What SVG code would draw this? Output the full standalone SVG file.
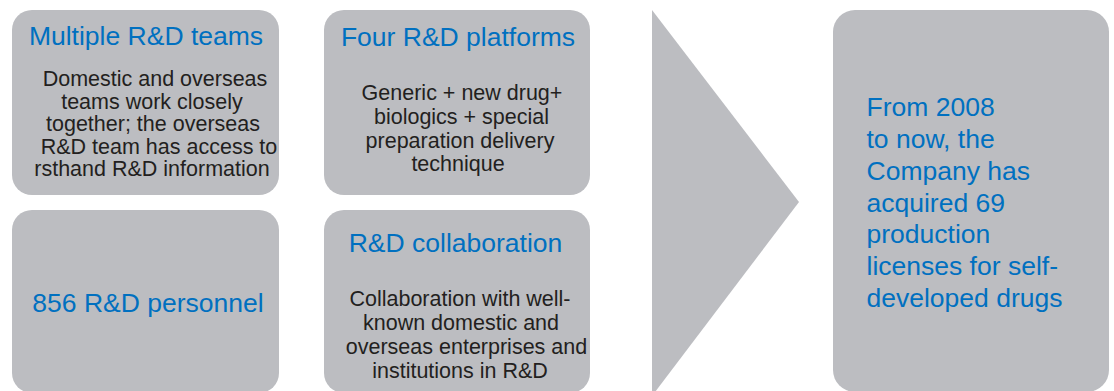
<svg xmlns="http://www.w3.org/2000/svg" width="1114" height="391" viewBox="0 0 1114 391">
<style>
.box{fill:#BCBDC1}
.t{font-family:"Liberation Sans",Arial,sans-serif;font-size:26.5px;fill:#0070C0}
.b{font-family:"Liberation Sans",Arial,sans-serif;font-size:21.5px;fill:#231F20;text-anchor:middle}
.c{text-anchor:middle}
</style>
<rect width="1114" height="391" fill="#FFFFFF"/>
<g id="node-teams">
<rect class="box" x="12" y="10" width="267" height="185" rx="20"/>
<text class="t c" x="146" y="45">Multiple R&amp;D teams</text>
<text class="b" x="155" y="86">Domestic and overseas</text>
<text class="b" x="152" y="108.5">teams work closely</text>
<text class="b" x="153" y="131">together; the overseas</text>
<text class="b" x="159" y="153.5">R&amp;D team has access to</text>
<text class="b" x="152" y="176">rsthand R&amp;D information</text>
</g>
<g id="node-platforms">
<rect class="box" x="324" y="10" width="266" height="185" rx="20"/>
<text class="t c" x="458" y="46">Four R&amp;D platforms</text>
<text class="b" x="462" y="100">Generic + new drug+</text>
<text class="b" x="461.5" y="124">biologics + special</text>
<text class="b" x="460" y="147.5">preparation delivery</text>
<text class="b" x="458" y="171">technique</text>
</g>
<g id="node-personnel">
<rect class="box" x="12" y="210" width="267" height="183" rx="20"/>
<text class="t c" x="148" y="312">856 R&amp;D personnel</text>
</g>
<g id="node-collaboration">
<rect class="box" x="324" y="210" width="266" height="183" rx="20"/>
<text class="t c" x="455.5" y="252">R&amp;D collaboration</text>
<text class="b" x="460" y="305.5">Collaboration with well-</text>
<text class="b" x="461" y="329.5">known domestic and</text>
<text class="b" x="466.5" y="353.5">overseas enterprises and</text>
<text class="b" x="460" y="377.5">institutions in R&amp;D</text>
</g>
<g id="connectors">
<polygon class="box" points="652,10 799,202 652,396"/>
</g>
<g id="node-result">
<rect class="box" x="833" y="10" width="276" height="382" rx="22"/>
<text class="t" x="866.5" y="115.7">From 2008</text>
<text class="t" x="866.5" y="147.5">to now, the</text>
<text class="t" x="866.5" y="179.5">Company has</text>
<text class="t" x="866.5" y="211.5">acquired 69</text>
<text class="t" x="866.5" y="243.3">production</text>
<text class="t" x="866.5" y="275">licenses for self-</text>
<text class="t" x="866.5" y="306.8">developed drugs</text>
</g>
</svg>
